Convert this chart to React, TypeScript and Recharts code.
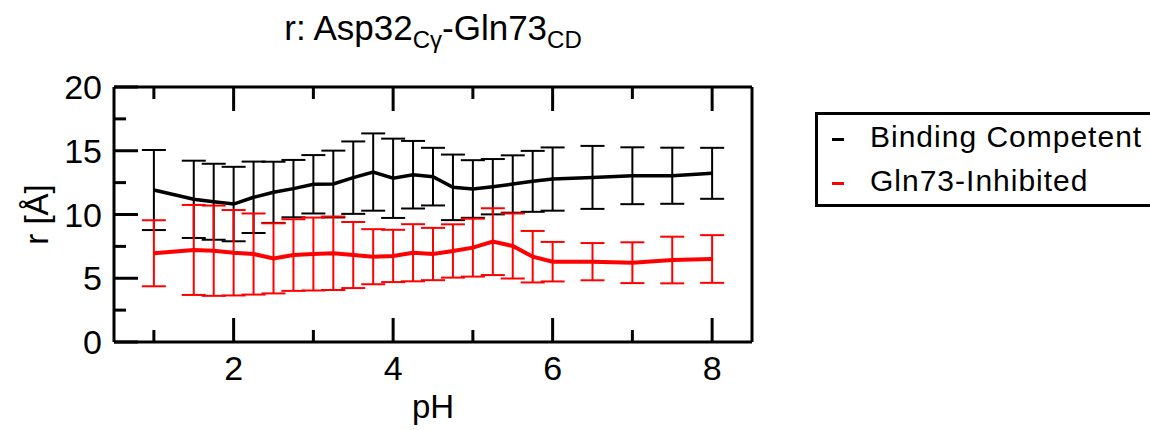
import { LineChart, Line, XAxis, YAxis, ErrorBar, Legend } from "recharts";

const phValues = [1, 1.5, 1.75, 2, 2.25, 2.5, 2.75, 3, 3.25, 3.5, 3.75, 4, 4.25, 4.5, 4.75, 5, 5.25, 5.5, 5.75, 6, 6.5, 7, 7.5, 8];
const bindingR = [11.92, 11.19, 11.0, 10.82, 11.35, 11.74, 12.03, 12.37, 12.39, 12.89, 13.33, 12.84, 13.12, 12.97, 12.13, 12.0, 12.18, 12.39, 12.6, 12.78, 12.91, 13.04, 13.04, 13.23];
const bindingErr = [3.14, 3.03, 2.98, 2.92, 2.8, 2.4, 2.25, 2.29, 2.62, 2.84, 3.03, 3.11, 2.65, 2.26, 2.57, 2.26, 2.17, 2.25, 2.39, 2.48, 2.47, 2.23, 2.2, 2.0];
const inhibitedR = [6.96, 7.22, 7.16, 7.0, 6.9, 6.56, 6.82, 6.9, 6.96, 6.82, 6.69, 6.75, 7.0, 6.9, 7.14, 7.4, 7.87, 7.53, 6.69, 6.3, 6.3, 6.22, 6.43, 6.51];
const inhibitedErr = [2.59, 3.53, 3.54, 3.35, 3.18, 2.75, 2.81, 2.86, 2.88, 2.59, 2.16, 2.05, 2.24, 2.05, 2.09, 2.27, 2.62, 2.55, 2.02, 1.55, 1.46, 1.6, 1.83, 1.87];

const xTicks = [1, 2, 3, 4, 5, 6, 7, 8];
const yTicks = [0, 2.5, 5, 7.5, 10, 12.5, 15, 17.5, 20];
const seriesNames = ["Binding Competent", "Gln73-Inhibited"];

const rows = phValues.map((ph, i) => ({
  ph,
  bound: bindingR[i],
  boundErr: bindingErr[i],
  inhib: inhibitedR[i],
  inhibErr: inhibitedErr[i],
}));

const FONT = "'Liberation Sans', Arial, Helvetica, sans-serif";
const MAJOR = 24;
const MINOR = 12;

// ticks point inward on every side, labels only on bottom/left
function BottomTick({ x, y, payload }) {
  const major = payload.value % 2 === 0;
  return (
    <g>
      <line x1={x} y1={y} x2={x} y2={y - (major ? MAJOR : MINOR)} stroke="#000" strokeWidth={3} />
      {major && (
        <text x={x} y={y + 38} textAnchor="middle" fontSize={34} fontFamily={FONT} fill="#000">
          {payload.value}
        </text>
      )}
    </g>
  );
}

function TopTick({ x, y, payload }) {
  const major = payload.value % 2 === 0;
  return <line x1={x} y1={y} x2={x} y2={y + (major ? MAJOR : MINOR)} stroke="#000" strokeWidth={3} />;
}

function LeftTick({ x, y, payload }) {
  const major = payload.value % 5 === 0;
  return (
    <g>
      <line x1={x} y1={y} x2={x + (major ? MAJOR : MINOR)} y2={y} stroke="#000" strokeWidth={3} />
      {major && (
        <text x={x - 12} y={y + 12} textAnchor="end" fontSize={34} fontFamily={FONT} fill="#000">
          {payload.value}
        </text>
      )}
    </g>
  );
}

function RightTick({ x, y, payload }) {
  const major = payload.value % 5 === 0;
  return <line x1={x} y1={y} x2={x - (major ? MAJOR : MINOR)} y2={y} stroke="#000" strokeWidth={3} />;
}

function LegendBox() {
  const colors = ["#000000", "#ff0000"];
  return (
    <div
      style={{
        border: "3px solid #000",
        width: 360,
        height: 89,
        fontFamily: FONT,
        fontSize: 30,
        background: "#fff",
        letterSpacing: 1,
      }}
    >
      {seriesNames.map((name, i) => (
        <div key={name} style={{ height: 44, lineHeight: "44px", whiteSpace: "nowrap" }}>
          <span
            style={{
              display: "inline-block",
              width: 12,
              height: 3,
              background: colors[i],
              marginLeft: 14,
              marginRight: 26,
              verticalAlign: "middle",
            }}
          />
          {name}
        </div>
      ))}
    </div>
  );
}

export default function App() {
  const axisLine = { stroke: "#000", strokeWidth: 3 };
  return (
    <div style={{ position: "fixed", left: 0, top: 0, width: 1150, height: 430, overflow: "hidden", background: "#fff" }}>
      <div
        style={{
          position: "absolute",
          left: 0,
          top: 8,
          width: 866,
          textAlign: "center",
          fontFamily: FONT,
          fontSize: 35,
          zIndex: 2,
        }}
      >
        r: Asp32<sub style={{ fontSize: 24 }}>Cγ</sub>-Gln73<sub style={{ fontSize: 24 }}>CD</sub>
      </div>
      <LineChart width={1150} height={430} data={rows} margin={{ top: 77, right: 388, bottom: 0, left: 0 }}>
        <XAxis
          dataKey="ph"
          type="number"
          domain={[0.5, 8.5]}
          ticks={xTicks}
          interval={0}
          height={88}
          tickSize={0}
          tickMargin={0}
          tickLine={false}
          axisLine={axisLine}
          tick={(p) => <BottomTick {...p} />}
          label={({ viewBox }) => (
            <text x={viewBox.x + viewBox.width / 2} y={viewBox.y + 76} textAnchor="middle" fontSize={33} fontFamily={FONT}>
              pH
            </text>
          )}
        />
        <XAxis
          xAxisId="top"
          orientation="top"
          type="number"
          dataKey="ph"
          domain={[0.5, 8.5]}
          ticks={xTicks}
          interval={0}
          height={10}
          tickSize={0}
          tickMargin={0}
          tickLine={false}
          axisLine={axisLine}
          tick={(p) => <TopTick {...p} />}
        />
        <YAxis
          type="number"
          domain={[0, 20]}
          ticks={yTicks}
          interval={0}
          width={114}
          tickSize={0}
          tickMargin={0}
          tickLine={false}
          axisLine={axisLine}
          allowDataOverflow
          tick={(p) => <LeftTick {...p} />}
          label={({ viewBox }) => {
            const cx = 36;
            const cy = viewBox.y + viewBox.height / 2;
            return (
              <text x={cx} y={cy} transform={`rotate(-90 ${cx} ${cy})`} textAnchor="middle" dominantBaseline="central" fontSize={33} fontFamily={FONT}>
                r [Å]
              </text>
            );
          }}
        />
        <YAxis
          yAxisId="right"
          orientation="right"
          type="number"
          domain={[0, 20]}
          ticks={yTicks}
          interval={0}
          width={10}
          tickSize={0}
          tickMargin={0}
          tickLine={false}
          axisLine={axisLine}
          tick={(p) => <RightTick {...p} />}
        />
        <Legend
          layout="vertical"
          align="center"
          verticalAlign="middle"
          wrapperStyle={{ left: 815, top: 112, width: 400 }}
          content={() => <LegendBox />}
        />
        <Line
          dataKey="bound"
          name={seriesNames[0]}
          stroke="#000"
          strokeWidth={3.5}
          dot={false}
          isAnimationActive={false}
        >
          <ErrorBar dataKey="boundErr" direction="y" width={12} stroke="#000" strokeWidth={2} isAnimationActive={false} />
        </Line>
        <Line
          dataKey="inhib"
          name={seriesNames[1]}
          stroke="#ff0000"
          strokeWidth={4}
          dot={false}
          isAnimationActive={false}
        >
          <ErrorBar dataKey="inhibErr" direction="y" width={12} stroke="#ff0000" strokeWidth={2} isAnimationActive={false} />
        </Line>
      </LineChart>
    </div>
  );
}
